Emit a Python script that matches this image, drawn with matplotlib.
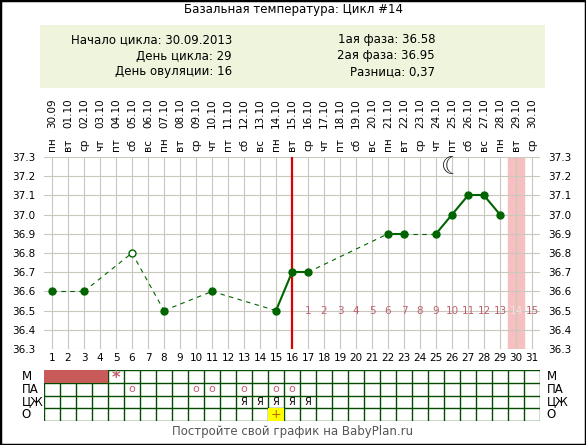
import datetime
import matplotlib
matplotlib.use("Agg")
import matplotlib.pyplot as plt
from matplotlib.patches import Rectangle

W, H = 586, 445
GREEN = "#006400"
GRID = "#c8c8bc"
PINK = "#c06070"

# ---------------------------------------------------------------- data
days = list(range(1, 32))
temp_days = [1, 3, 6, 8, 11, 15, 16, 17, 22, 23, 25, 26, 27, 28, 29]
temps = [36.6, 36.6, 36.8, 36.5, 36.6, 36.5, 36.7, 36.7, 36.9, 36.9, 36.9, 37.0, 37.1, 37.1, 37.0]
open_days = [6]
ovulation_day = 16
pink_day = 30
weekdays = ["пн", "вт", "ср", "чт", "пт", "сб", "вс"]
m_days = [1, 2, 3, 4]
m_star_days = [5]
pa_days = [6, 10, 11, 13, 15, 16]
cz_days = [13, 14, 15, 16, 17]
o_days = [15]

start = datetime.date(2013, 9, 30)
dates = [(start + datetime.timedelta(d - 1)).strftime("%d.%m") for d in days]
dow = [weekdays[(d - 1) % 7] for d in days]

fig = plt.figure(figsize=(W / 100, H / 100), dpi=100, facecolor="white")
fig.patches.append(Rectangle((0, 0), 1, 1, transform=fig.transFigure,
                             fill=False, edgecolor="black", lw=2.5))

def px(x, y):
    return x / W, 1 - y / H

# header
fig.text(*px(293, 10), "Базальная температура: Цикл #14", ha="center", va="center", fontsize=8.5)
fig.patches.append(Rectangle(px(40, 88), 505 / W, 63 / H, transform=fig.transFigure,
                             facecolor="#eef5dc", edgecolor="none"))
for y, s in zip([40, 56, 72], ["Начало цикла: 30.09.2013", "День цикла: 29", "День овуляции: 16"]):
    fig.text(*px(232, y), s, ha="right", va="center", fontsize=8.5)
for y, s in zip([40, 56, 72], ["1ая фаза: 36.58", "2ая фаза: 36.95", "Разница: 0,37"]):
    fig.text(*px(435, y), s, ha="right", va="center", fontsize=8.5)
fig.text(*px(293, 432), "Постройте свой график на BabyPlan.ru", ha="center", va="center",
         fontsize=8.5, color="#555555")

# ---------------------------------------------------------------- chart
ax = fig.add_axes([44 / W, 1 - 349 / H, 496 / W, 192 / H])
ax.set_xlim(0.5, 31.5)
ax.set_ylim(36.3, 37.3)
ax.set_xticks(days)
ax.set_yticks([round(36.3 + 0.1 * i, 1) for i in range(11)])
ax.grid(True, which="major", color=GRID, lw=0.8)
ax.tick_params(length=0, labelsize=7.5, pad=3)
ax.tick_params(axis="y", labelleft=True, labelright=True, pad=6)
ax.yaxis.set_major_formatter(matplotlib.ticker.FormatStrFormatter("%.1f"))
for s in ax.spines.values():
    s.set_visible(False)
ax.axvspan(pink_day - 0.5, pink_day + 0.5, color="#f7c0c0", zorder=0)
ax.axvline(ovulation_day, color="#dd0000", lw=1.6, zorder=3)

for i in range(len(temp_days) - 1):
    consecutive = temp_days[i + 1] - temp_days[i] == 1
    ax.plot(temp_days[i:i + 2], temps[i:i + 2], color=GREEN,
            lw=1.5 if consecutive else 0.8, ls="-" if consecutive else (0, (4, 4)), zorder=4)
for d, t in zip(temp_days, temps):
    ax.plot(d, t, "o", ms=5, color=GREEN, mfc="white" if d in open_days else GREEN, zorder=5)

for k, d in enumerate(range(ovulation_day + 1, 32), start=1):
    ax.text(d, 36.5, str(k), ha="center", va="center", fontsize=7.5,
            color="#f0e0e0" if d == pink_day else PINK, zorder=6)
ax.text(26, 37.25, "☾", ha="center", va="center", fontsize=17, color="#222222",
        fontweight="bold")

for d in days:
    ax.text(d, 1.03, dow[d - 1], transform=ax.get_xaxis_transform(), rotation=90,
            ha="center", va="bottom", fontsize=7.5)
    ax.text(d, 1.15, dates[d - 1], transform=ax.get_xaxis_transform(), rotation=90,
            ha="center", va="bottom", fontsize=7.5)

# ---------------------------------------------------------------- table
TG = "#004d00"
tb = fig.add_axes([44 / W, 1 - 421 / H, 496 / W, 51 / H])
tb.set_xlim(0.5, 31.5)
tb.set_ylim(4, 0)
tb.axis("off")
for r in range(5):
    tb.plot([0.5, 31.5], [r, r], color=TG, lw=1, zorder=1)
for d in range(32):
    tb.plot([d + 0.5, d + 0.5], [0, 4], color=TG, lw=1, zorder=1)
tb.add_patch(Rectangle((min(m_days) - 0.5, 0), len(m_days), 1,
                       facecolor="#c85a5a", edgecolor="none", zorder=2))
for d in o_days:
    tb.add_patch(Rectangle((d - 0.5, 3), 1, 1, facecolor="#ffff00", edgecolor="none", zorder=2))
    tb.text(d, 3.5, "+", ha="center", va="center", fontsize=9, color="#c06000", zorder=3)
for d in m_star_days:
    tb.text(d, 0.6, "*", ha="center", va="center", fontsize=12, color=PINK, fontweight="bold")
for d in pa_days:
    tb.text(d, 1.5, "o", ha="center", va="center", fontsize=8, color=PINK)
for d in cz_days:
    tb.text(d, 2.5, "Я", ha="center", va="center", fontsize=7)
for r, lab in enumerate(["М", "ПА", "ЦЖ", "О"]):
    tb.text(-0.9, r + 0.5, lab, ha="left", va="center", fontsize=8.5)
    tb.text(31.9, r + 0.5, lab, ha="left", va="center", fontsize=8.5)

fig.savefig("out.png", dpi=100)
